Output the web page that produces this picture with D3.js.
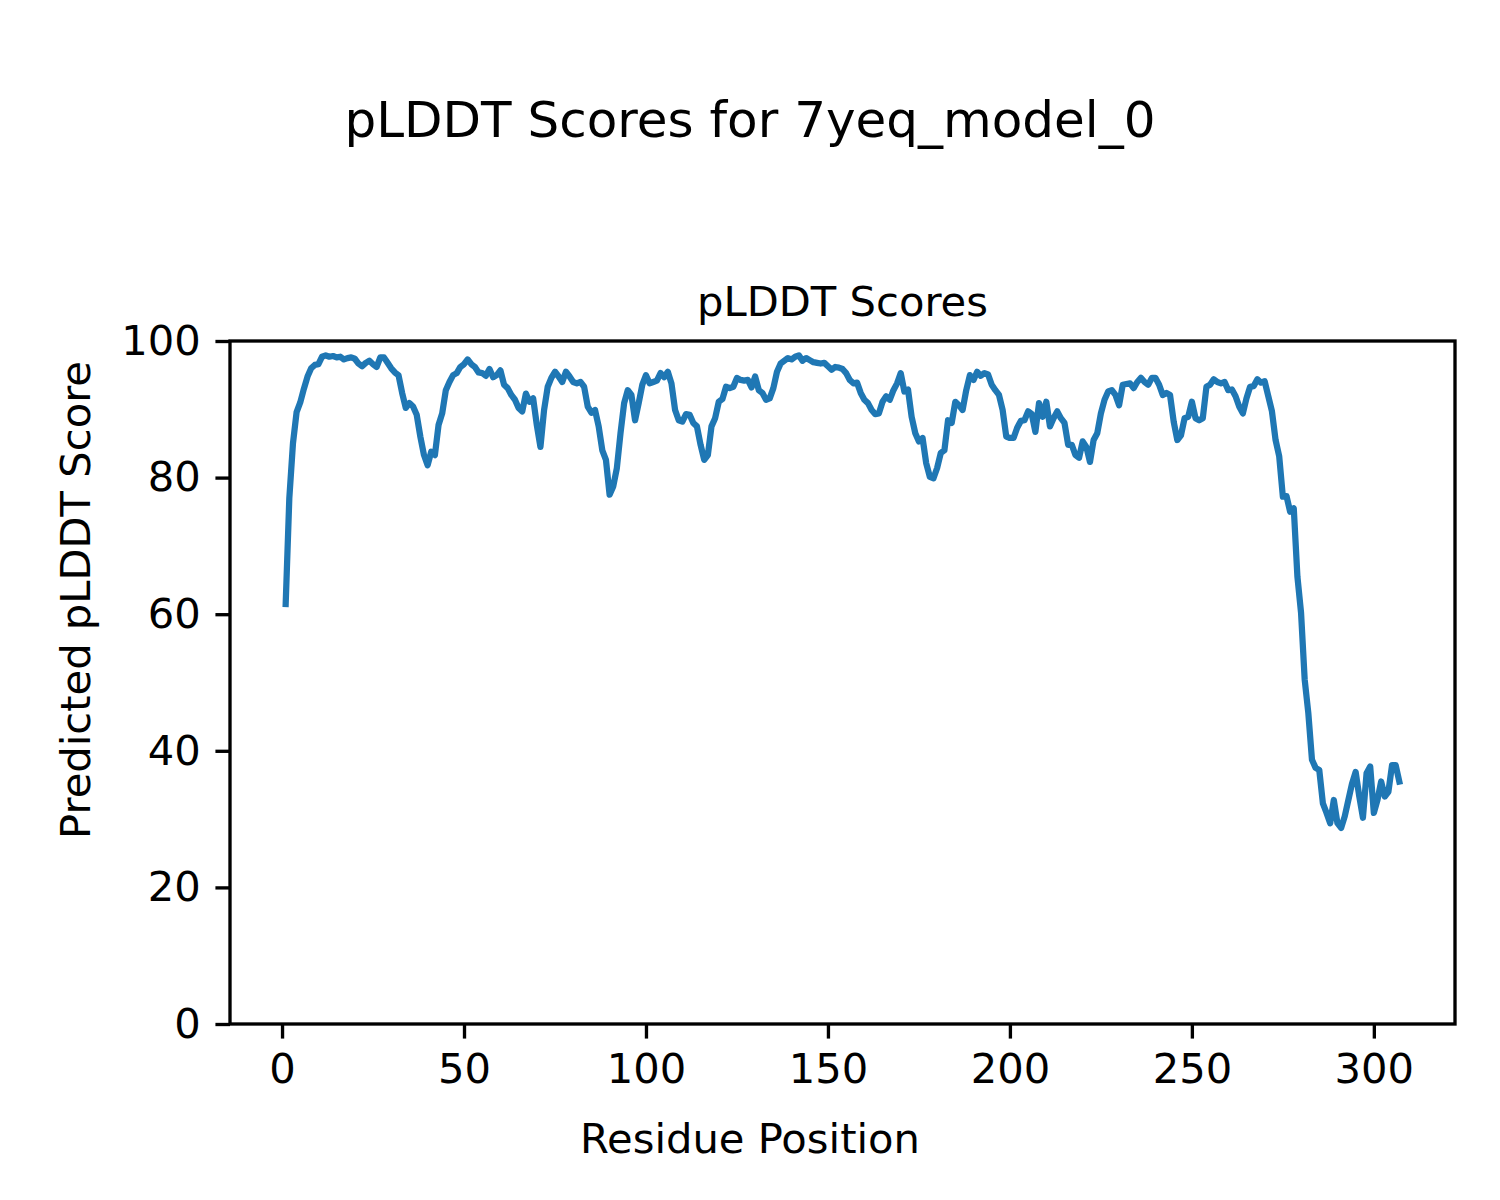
<!DOCTYPE html>
<html>
<head>
<meta charset="utf-8">
<script src="https://cdn.jsdelivr.net/npm/d3@7"></script>
<style>
  body { margin: 0; background: #fff; }
  text { font-family: "DejaVu Sans", sans-serif; fill: #000; }
</style>
</head>
<body>
<div id="vis_container"></div>
<script>
// pLDDT score per residue (residues 1..307).
var scores = [
	61.5, 77.0, 85.0, 89.6, 91.0, 93.0, 94.8, 96.0, 96.5, 96.6,
	97.7, 97.9, 97.7, 97.8, 97.6, 97.7, 97.3, 97.5, 97.6, 97.4,
	96.7, 96.3, 96.8, 97.1, 96.6, 96.2, 97.6, 97.6, 96.8, 96.0,
	95.4, 95.0, 92.4, 90.2, 90.9, 90.4, 89.2, 86.0, 83.3, 81.8,
	83.8, 83.3, 87.7, 89.4, 92.8, 94.0, 95.0, 95.3, 96.2, 96.6,
	97.3, 96.6, 96.2, 95.4, 95.3, 94.9, 95.9, 94.7, 95.0, 95.7,
	93.6, 93.1, 92.1, 91.4, 90.2, 89.7, 92.3, 91.1, 91.6, 87.7,
	84.5, 89.9, 93.3, 94.6, 95.5, 94.8, 94.0, 95.5, 94.8, 94.0,
	93.8, 94.0, 93.3, 90.4, 89.5, 89.9, 87.5, 84.0, 82.6, 77.5,
	78.7, 81.4, 86.5, 90.9, 92.8, 92.1, 88.4, 90.9, 93.6, 95.0,
	93.8, 94.0, 94.2, 95.3, 94.7, 95.5, 93.8, 89.9, 88.4, 88.2,
	89.3, 89.2, 88.0, 87.5, 84.8, 82.6, 83.3, 87.5, 88.7, 91.1,
	91.5, 93.3, 93.1, 93.3, 94.6, 94.3, 94.2, 94.3, 93.2, 94.8,
	92.8, 92.4, 91.4, 91.6, 93.1, 95.5, 96.7, 97.1, 97.5, 97.3,
	97.7, 97.9, 97.1, 97.5, 97.2, 96.9, 96.8, 96.7, 96.8, 96.3,
	95.8, 96.2, 96.1, 95.9, 95.3, 94.3, 93.8, 93.9, 92.4, 91.4,
	90.9, 89.9, 89.3, 89.4, 91.1, 91.9, 91.4, 92.8, 93.8, 95.3,
	92.6, 92.9, 88.9, 86.5, 85.3, 85.8, 82.1, 80.1, 79.9, 81.4,
	83.6, 84.0, 88.4, 88.0, 91.1, 90.6, 89.9, 92.8, 95.0, 94.3,
	95.5, 94.9, 95.3, 95.1, 93.6, 92.8, 92.1, 89.9, 86.0, 85.8,
	85.8, 87.3, 88.3, 88.4, 89.7, 89.3, 86.7, 90.9, 88.9, 91.1,
	87.5, 88.7, 89.7, 88.7, 88.0, 84.8, 84.8, 83.3, 82.9, 85.3,
	84.5, 82.3, 85.5, 86.5, 89.4, 91.4, 92.6, 92.8, 92.1, 90.6,
	93.6, 93.7, 93.8, 93.1, 94.0, 94.6, 94.0, 93.6, 94.6, 94.6,
	93.6, 92.1, 92.4, 92.1, 88.2, 85.5, 86.2, 88.7, 88.9, 91.1,
	88.7, 88.4, 88.7, 93.3, 93.6, 94.4, 94.0, 93.8, 94.0, 92.8,
	92.9, 91.9, 90.4, 89.4, 91.6, 93.3, 93.4, 94.4, 93.9, 94.1,
	91.9, 89.7, 85.5, 83.1, 77.2, 77.3, 75.0, 75.5, 65.5, 60.2,
	50.4, 45.5, 38.7, 37.5, 37.2, 32.3, 30.9, 29.4, 32.8, 29.4,
	28.7, 30.4, 32.8, 35.2, 36.9, 33.3, 30.2, 36.7, 37.7, 30.9,
	32.8, 35.5, 33.3, 34.0, 37.9, 37.9, 35.5
];

// Residue positions run from 1 to the number of scores.
var residues = scores.map(function(d, i) { return i + 1; });

var x_ticks = [0, 50, 100, 150, 200, 250, 300];
var y_ticks = [0, 20, 40, 60, 80, 100];

var fig_title = "pLDDT Scores for 7yeq_model_0";
var ax_title = "pLDDT Scores";
var x_label = "Residue Position";
var y_label = "Predicted pLDDT Score";

// Figure is 5x4 inches at 300 dpi; 1pt = 300/72 px.
var width = 1500;
var height = 1200;
var pt = 300 / 72;
var plot = {left: 230, right: 1455, top: 341, bottom: 1024};

// matplotlib-style 5% margin on x.
var xmin = d3.min(residues), xmax = d3.max(residues);
var pad = (xmax - xmin) * 0.05;
var x = d3.scaleLinear()
	.domain([xmin - pad, xmax + pad])
	.range([plot.left, plot.right]);

var y = d3.scaleLinear()
	.domain([0, 100])
	.range([plot.bottom, plot.top]);

var svg = d3.select("#vis_container")
	.append("svg")
	.attr("width", width)
	.attr("height", height);

svg.append("rect")
	.attr("width", width)
	.attr("height", height)
	.attr("fill", "#fff");

// The data line.
var line = d3.line()
	.x(function(d, i) { return x(residues[i]); })
	.y(function(d) { return y(d); });

svg.append("path")
	.datum(scores)
	.attr("d", line)
	.attr("fill", "none")
	.attr("stroke", "#1f77b4")
	.attr("stroke-width", 1.5 * pt)
	.attr("stroke-linejoin", "round")
	.attr("stroke-linecap", "square");

// Axes with outward ticks.
var tick_len = 3.5 * pt;
var font_px = 10 * pt;

var x_axis = svg.append("g")
	.attr("transform", "translate(0," + plot.bottom + ")")
	.call(d3.axisBottom(x).tickValues(x_ticks).tickSize(tick_len).tickPadding(3.5 * pt));

var y_axis = svg.append("g")
	.attr("transform", "translate(" + plot.left + ",0)")
	.call(d3.axisLeft(y).tickValues(y_ticks).tickSize(tick_len).tickPadding(3.5 * pt));

[x_axis, y_axis].forEach(function(g) {
	g.select(".domain").remove();
	g.selectAll(".tick line")
		.attr("stroke", "#000")
		.attr("stroke-width", 0.8 * pt);
	g.selectAll(".tick text")
		.style("font-family", "DejaVu Sans, sans-serif")
		.style("font-size", font_px + "px")
		.attr("fill", "#000");
});

// Frame (spines) on all four sides.
svg.append("rect")
	.attr("x", plot.left)
	.attr("y", plot.top)
	.attr("width", plot.right - plot.left)
	.attr("height", plot.bottom - plot.top)
	.attr("fill", "none")
	.attr("stroke", "#000")
	.attr("stroke-width", 0.8 * pt);

// Titles and labels.
svg.append("text")
	.attr("x", width / 2)
	.attr("y", 137)
	.style("text-anchor", "middle")
	.style("font-size", (12 * pt) + "px")
	.text(fig_title);

svg.append("text")
	.attr("x", (plot.left + plot.right) / 2)
	.attr("y", plot.top - 6 * pt)
	.style("text-anchor", "middle")
	.style("font-size", font_px + "px")
	.text(ax_title);

svg.append("text")
	.attr("x", width / 2)
	.attr("y", 1153)
	.style("text-anchor", "middle")
	.style("font-size", font_px + "px")
	.text(x_label);

svg.append("text")
	.attr("transform", "translate(90," + (height / 2) + ") rotate(-90)")
	.style("text-anchor", "middle")
	.style("font-size", font_px + "px")
	.text(y_label);
</script>
</body>
</html>
